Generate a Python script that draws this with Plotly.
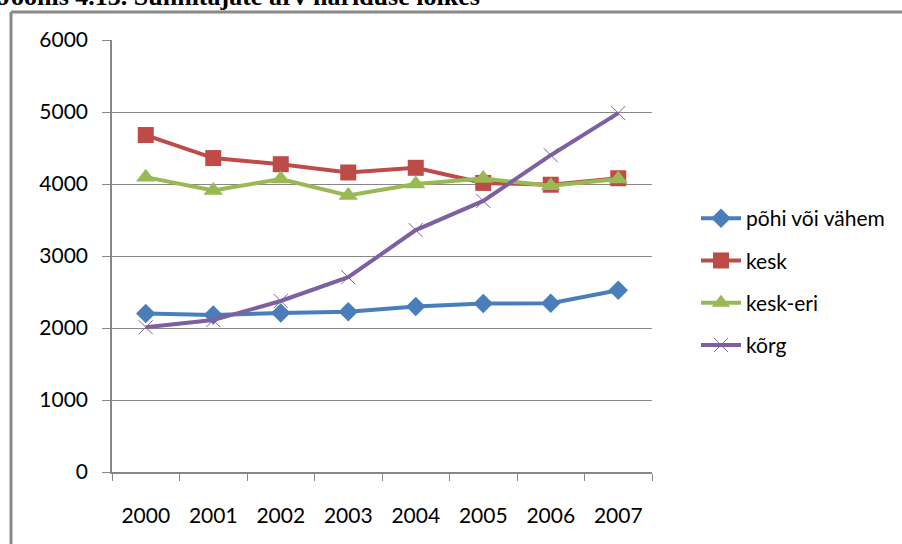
import plotly.graph_objects as go

years = ["2000", "2001", "2002", "2003", "2004", "2005", "2006", "2007"]
pohi = [2200, 2180, 2210, 2225, 2300, 2340, 2345, 2525]
kesk = [4680, 4360, 4275, 4160, 4225, 4015, 3990, 4080]
kesk_eri = [4095, 3910, 4070, 3840, 4000, 4075, 3975, 4070]
korg = [2010, 2110, 2375, 2705, 3360, 3765, 4400, 4985]

series_names = ["põhi või vähem", "kesk", "kesk-eri", "kõrg"]
colors = ["#4A7EBB", "#BE4B48", "#98B954", "#7D60A0"]

W, H = 902, 544
L, R, T, B = 112, 250, 40, 72
pw, ph = W - L - R, H - T - B

def px_x(x):
    return (x - L) / pw

def px_y(y):
    return (H - B - y) / ph

fig = go.Figure()
markers = [
    dict(symbol="diamond", size=15),
    dict(symbol="square", size=16),
    dict(symbol="triangle-up", size=17),
    dict(symbol="x-thin", size=14, line=dict(width=1, color=colors[3])),
]
for i, (name, vals) in enumerate(zip(series_names, [pohi, kesk, kesk_eri, korg])):
    fig.add_trace(go.Scatter(
        x=years, y=vals, name=name, mode="lines+markers",
        line=dict(color=colors[i], width=4),
        marker=dict(color=colors[i], **markers[i]),
        legendgroup=name,
    ))

font = "Lato, 'Open Sans', sans-serif"
fs = 21
fig.update_layout(
    width=W, height=H,
    margin=dict(l=L, r=R, t=T, b=B),
    paper_bgcolor="white", plot_bgcolor="white",
    font=dict(family=font, size=fs, color="#000"),
    showlegend=True,
    legend=dict(
        x=px_x(696), y=px_y(198), xanchor="left", yanchor="top",
        traceorder="grouped", tracegroupgap=12,
        font=dict(family=font, size=fs, color="#000"),
        itemwidth=40, bgcolor="rgba(0,0,0,0)",
    ),
    xaxis=dict(
        type="category", range=[-0.5, 7.5],
        showline=True, linecolor="#878787", linewidth=1.5,
        ticks="outside", tickson="boundaries", ticklen=7, tickcolor="#878787",
        showgrid=False, ticklabelstandoff=24,
        tickfont=dict(family=font, size=fs, color="#000"),
    ),
    yaxis=dict(
        range=[0, 6000], dtick=1000,
        showline=True, linecolor="#878787", linewidth=1.5,
        ticks="outside", ticklen=8, tickcolor="#878787",
        showgrid=True, gridcolor="#878787", gridwidth=1,
        zeroline=False, ticklabelstandoff=10,
        tickfont=dict(family=font, size=fs, color="#000"),
    ),
)

# chart frame (left and top border)
fig.add_shape(type="line", xref="paper", yref="paper",
              x0=px_x(11), x1=px_x(11), y0=px_y(12), y1=px_y(560),
              line=dict(color="#888888", width=3))
fig.add_shape(type="line", xref="paper", yref="paper",
              x0=px_x(11), x1=px_x(910), y0=px_y(12), y1=px_y(12),
              line=dict(color="#888888", width=3))

fig.add_annotation(
    text="<b>Joonis 4.13. Sünnitajate arv hariduse lõikes</b>",
    xref="paper", yref="paper", x=px_x(-4), y=px_y(13),
    xanchor="left", yanchor="bottom", showarrow=False,
    font=dict(family="Liberation Serif", size=26, color="#000"),
)

fig.write_html("out.html", config={"displayModeBar": False},
               post_script="document.body.style.margin='0px';")
